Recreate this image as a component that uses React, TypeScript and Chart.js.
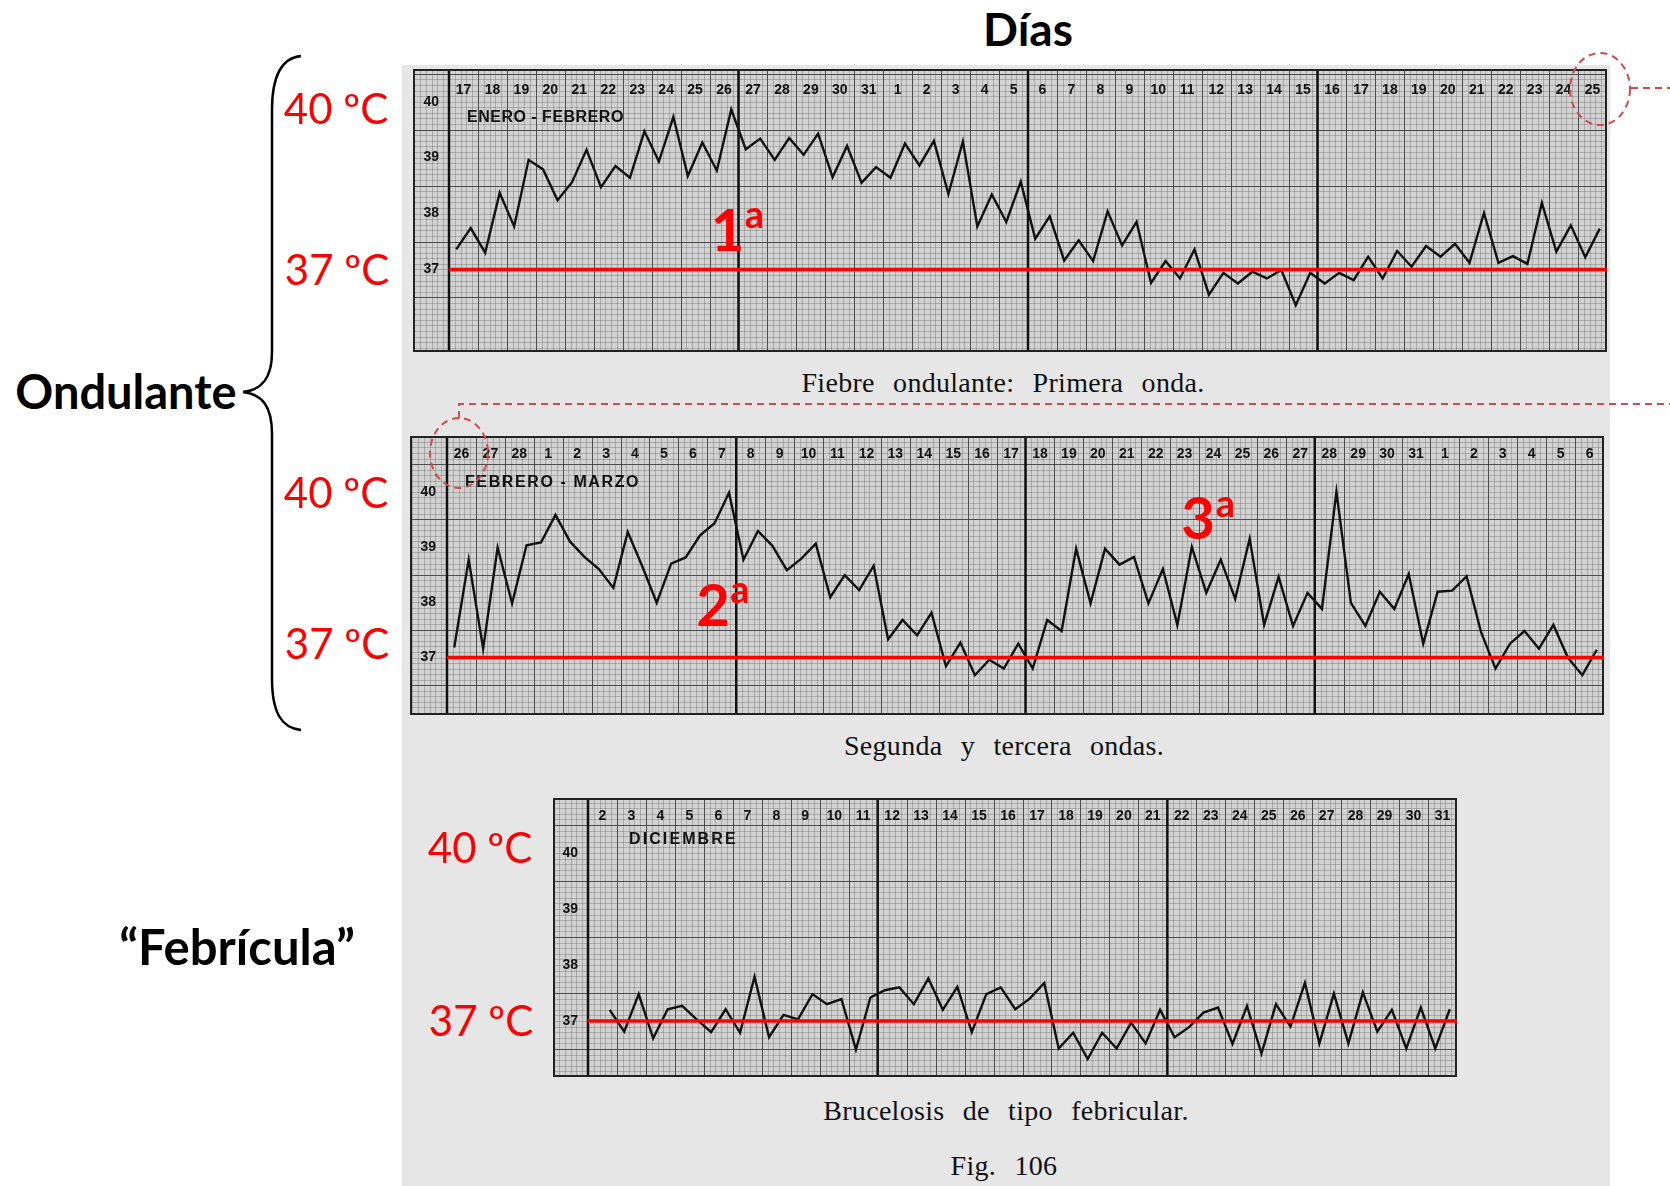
import React, { useEffect, useRef } from 'react';
import { Chart, registerables } from 'chart.js';
Chart.register(...registerables);

// ---------- DATA ----------
const days1 = ['17','18','19','20','21','22','23','24','25','26','27','28','29','30','31',
  '1','2','3','4','5','6','7','8','9','10','11','12','13','14','15','16','17','18','19','20','21','22','23','24','25'];
const days2 = ['26','27','28','1','2','3','4','5','6','7','8','9','10','11','12','13','14','15','16','17',
  '18','19','20','21','22','23','24','25','26','27','28','29','30','31','1','2','3','4','5','6'];
const days3 = ['2','3','4','5','6','7','8','9','10','11','12','13','14','15','16','17','18','19','20','21',
  '22','23','24','25','26','27','28','29','30','31'];

// two readings per day (morning / evening)
const temps1 = [37.36, 37.74, 37.30, 38.37, 37.77, 38.96, 38.79, 38.24, 38.56, 39.14,
  38.47, 38.85, 38.64, 39.47, 38.93, 39.73, 38.67, 39.27, 38.77, 39.86,
  39.15, 39.34, 38.96, 39.35, 39.05, 39.43, 38.65, 39.21, 38.55, 38.83,
  38.64, 39.25, 38.86, 39.30, 38.35, 39.29, 37.77, 38.34, 37.85, 38.57,
  37.55, 37.95, 37.16, 37.52, 37.15, 38.04, 37.43, 37.85, 36.76, 37.15,
  36.84, 37.36, 36.55, 36.94, 36.75, 36.96, 36.84, 36.99, 36.36, 36.94,
  36.75, 36.94, 36.81, 37.23, 36.84, 37.33, 37.05, 37.42, 37.23, 37.46,
  37.12, 38.01, 37.12, 37.24, 37.10, 38.19, 37.32, 37.79, 37.22, 37.73];
const temps2 = [37.18, 38.77, 37.16, 38.99, 37.98, 39.03, 39.08, 39.58, 39.10, 38.82,
  38.60, 38.26, 39.27, 38.65, 37.99, 38.70, 38.81, 39.21, 39.43, 39.98,
  38.77, 39.29, 39.02, 38.58, 38.79, 39.06, 38.09, 38.49, 38.22, 38.66,
  37.33, 37.68, 37.40, 37.81, 36.84, 37.27, 36.68, 36.96, 36.80, 37.25,
  36.80, 37.68, 37.48, 38.97, 37.98, 38.97, 38.68, 38.82, 37.98, 38.60,
  37.59, 39.00, 38.17, 38.77, 38.06, 39.15, 37.59, 38.46, 37.57, 38.17,
  37.88, 40.00, 37.99, 37.57, 38.19, 37.88, 38.51, 37.25, 38.19, 38.21,
  38.47, 37.46, 36.80, 37.25, 37.48, 37.16, 37.59, 37.00, 36.68, 37.14];
const temps3: (number | null)[] = [null, 37.20, 36.81, 37.48, 36.69, 37.21, 37.27, 37.03, 36.80, 37.21,
  36.79, 37.79, 36.71, 37.11, 37.03, 37.48, 37.30, 37.39, 36.49, 37.42,
  37.55, 37.60, 37.30, 37.76, 37.20, 37.61, 36.80, 37.48, 37.60, 37.21,
  37.40, 37.68, 36.51, 36.79, 36.32, 36.79, 36.51, 36.97, 36.60, 37.20,
  36.71, 36.89, 37.15, 37.24, 36.59, 37.27, 36.42, 37.30, 36.90, 37.68,
  36.60, 37.49, 36.60, 37.51, 36.81, 37.20, 36.51, 37.24, 36.51, 37.21];

const yTickValues = [37, 38, 39, 40];
const normalTemp = 37;

// ---------- STYLE ----------
const serif = "'Liberation Serif', 'Times New Roman', serif";
const sans = "'Liberation Sans', Arial, sans-serif";
const anno = "Lato, 'Open Sans', sans-serif";

const paperPlugin = {
  id: 'paper',
  beforeDraw(chart: any) {
    const { ctx } = chart;
    const W = chart.width, H = chart.height;
    const ys = chart.scales.y, xs = chart.scales.xd;
    const nDays = xs.max;
    ctx.save();
    ctx.fillStyle = '#d2d2d2';
    ctx.fillRect(0, 0, W, H);
    // fine grid
    ctx.strokeStyle = 'rgba(60,60,60,0.26)';
    ctx.lineWidth = 1;
    ctx.beginPath();
    for (let k = -30; k < 1000; k++) {
      const x = xs.getPixelForValue(k / 5);
      if (x > W) break;
      if (x < 0) continue;
      const px = Math.round(x) + 0.5;
      ctx.moveTo(px, 0); ctx.lineTo(px, H);
    }
    const vTop = ys.getValueForPixel(0), vBot = ys.getValueForPixel(H);
    for (let v = Math.ceil(vBot * 10); v <= Math.floor(vTop * 10); v++) {
      const py = Math.round(ys.getPixelForValue(v / 10)) + 0.5;
      ctx.moveTo(0, py); ctx.lineTo(W, py);
    }
    ctx.stroke();
    // medium lines: each day, each x.5 degree
    ctx.strokeStyle = 'rgba(40,40,40,0.7)';
    ctx.beginPath();
    for (let d = 1; d < nDays; d++) {
      if (d % 10 === 0) continue;
      const px = Math.round(xs.getPixelForValue(d)) + 0.5;
      ctx.moveTo(px, 0); ctx.lineTo(px, H);
    }
    for (let v = Math.floor(vBot) + 0.5; v < vTop; v += 1) {
      if (v < vBot) continue;
      const py = Math.round(ys.getPixelForValue(v)) + 0.5;
      ctx.moveTo(0, py); ctx.lineTo(W, py);
    }
    ctx.stroke();
    // thick lines every 10 days
    ctx.strokeStyle = '#111';
    ctx.lineWidth = 2.5;
    ctx.beginPath();
    for (let d = 0; d < nDays; d += 10) {
      const px = xs.getPixelForValue(d);
      ctx.moveTo(px, 0); ctx.lineTo(px, H);
    }
    ctx.stroke();
    ctx.strokeStyle = '#222';
    ctx.lineWidth = 2;
    ctx.strokeRect(1, 1, W - 2, H - 2);
    ctx.restore();
  },
};

type PanelProps = {
  left: number; top: number; width: number; height: number;
  axisW: number; headerH: number; yMin: number; yMax: number; labelPad: number;
  labels: string[]; temps: (number | null)[];
};

function Panel(p: PanelProps) {
  const ref = useRef<HTMLCanvasElement>(null);
  useEffect(() => {
    const nDays = p.labels.length;
    const chart = new Chart(ref.current as HTMLCanvasElement, {
      type: 'line',
      data: {
        datasets: [
          {
            data: [{ x: 0, y: normalTemp }, { x: nDays, y: normalTemp }],
            borderColor: '#ff0000', borderWidth: 3.5, pointRadius: 0,
            xAxisID: 'xd', yAxisID: 'y',
          },
          {
            data: p.temps.map((t, i) => ({ x: (i + 0.5) / 2, y: t })),
            borderColor: '#111', borderWidth: 2.4, pointRadius: 0, tension: 0,
            borderJoinStyle: 'miter',
            xAxisID: 'xd', yAxisID: 'y',
          },
        ],
      } as any,
      options: {
        animation: false,
        responsive: false,
        devicePixelRatio: 1,
        events: [],
        layout: { padding: 0 },
        plugins: { legend: { display: false }, tooltip: { enabled: false } },
        scales: {
          x: {
            type: 'category', labels: p.labels, position: 'top', offset: true,
            grid: { display: false, drawTicks: false }, border: { display: false },
            ticks: {
              autoSkip: false, maxRotation: 0, minRotation: 0, padding: p.labelPad,
              color: '#111', font: { family: sans, weight: 'bold', size: 14 },
            },
            afterFit(s: any) { s.height = p.headerH; s.paddingLeft = 0; s.paddingRight = 0; },
          },
          xd: { type: 'linear', min: 0, max: nDays, display: false },
          y: {
            type: 'linear', position: 'left', min: p.yMin, max: p.yMax,
            grid: { display: false, drawTicks: false }, border: { display: false },
            ticks: {
              crossAlign: 'near', padding: Math.round((p.axisW - 16) / 2), color: '#111',
              font: { family: sans, weight: 'bold', size: 14 },
            },
            afterBuildTicks(s: any) { s.ticks = yTickValues.map((v) => ({ value: v })); },
            afterFit(s: any) { s.width = p.axisW; s.paddingTop = 0; s.paddingBottom = 0; },
          },
        },
      } as any,
      plugins: [paperPlugin],
    });
    return () => chart.destroy();
  }, []);
  return (
    <canvas ref={ref} width={p.width} height={p.height}
      style={{ position: 'absolute', left: p.left, top: p.top, width: p.width, height: p.height }} />
  );
}

function T({ x, y, children, style, align }: any) {
  return (
    <div style={{
      position: 'absolute', left: x, top: y,
      transform: align === 'left' ? 'translate(0,-50%)' : 'translate(-50%,-50%)',
      whiteSpace: 'nowrap', lineHeight: 1, ...style,
    }}>{children}</div>
  );
}

const red = '#ff0000';
const redLbl = { color: red, fontFamily: anno, fontSize: 42 };
const bigLbl = { color: '#000', fontFamily: anno, fontWeight: 700 };
const capLbl = { color: '#111', fontFamily: serif, fontSize: 28, letterSpacing: 0.3, wordSpacing: 11 };
const monthLbl = { color: '#111', fontFamily: sans, fontWeight: 700, fontSize: 16 };
const ordNum = { color: red, fontFamily: anno, fontWeight: 700, fontSize: 58 };
const ordSup = { color: red, fontFamily: anno, fontWeight: 700, fontSize: 38 };

export default function App() {
  return (
    <div style={{ position: 'absolute', left: 0, top: 0, width: 1670, height: 1186, background: '#fff', overflow: 'hidden' }}>
      <div style={{ position: 'absolute', left: 402, top: 65, width: 1208, height: 1121, background: '#e6e6e6' }} />

      <Panel left={413} top={69} width={1194} height={283} axisW={36} headerH={29}
        yMin={35.525} yMax={40.066} labelPad={-1} labels={days1} temps={temps1} />
      <Panel left={410} top={436} width={1194} height={279} axisW={37} headerH={27}
        yMin={35.96} yMax={40.519} labelPad={0} labels={days2} temps={temps2} />
      <Panel left={553} top={798} width={904} height={279} axisW={35} headerH={27}
        yMin={36.0} yMax={40.5} labelPad={0} labels={days3} temps={temps3} />

      <T x={467} y={116.5} align="left" style={{ ...monthLbl, letterSpacing: 0.5 }}>ENERO - FEBRERO</T>
      <T x={465} y={481.5} align="left" style={{ ...monthLbl, letterSpacing: 1.6 }}>FEBRERO - MARZO</T>
      <T x={629} y={839} align="left" style={{ ...monthLbl, letterSpacing: 2.1 }}>DICIEMBRE</T>

      <T x={1028} y={29} style={{ ...bigLbl, fontSize: 46 }}>Días</T>
      <T x={126} y={391} style={{ ...bigLbl, fontSize: 47 }}>Ondulante</T>
      <T x={237} y={946} style={{ ...bigLbl, fontSize: 49 }}>“Febrícula”</T>

      <T x={336} y={108} style={redLbl}>40 ºC</T>
      <T x={337} y={269} style={redLbl}>37 ºC</T>
      <T x={336} y={492} style={redLbl}>40 ºC</T>
      <T x={337} y={643} style={redLbl}>37 ºC</T>
      <T x={480} y={847} style={redLbl}>40 ºC</T>
      <T x={481} y={1020} style={redLbl}>37 ºC</T>

      <T x={727.5} y={229} style={ordNum}>1</T>
      <T x={754.5} y={213} style={ordSup}>a</T>
      <T x={713} y={603.5} style={ordNum}>2</T>
      <T x={740} y={587.5} style={ordSup}>a</T>
      <T x={1198} y={517} style={ordNum}>3</T>
      <T x={1225.5} y={501.5} style={ordSup}>a</T>

      <T x={1003} y={383} style={capLbl}>Fiebre ondulante: Primera onda.</T>
      <T x={1004} y={746} style={capLbl}>Segunda y tercera ondas.</T>
      <T x={1006} y={1111} style={capLbl}>Brucelosis de tipo febricular.</T>
      <T x={1004} y={1166} style={capLbl}>Fig. 106</T>

      <svg width={1670} height={1186} style={{ position: 'absolute', left: 0, top: 0, pointerEvents: 'none' }}>
        <path d="M 301 56 C 281 58, 272 76, 272 110 L 272 352 C 272 378, 262 390, 243 392 C 262 394, 272 406, 272 434 L 272 678 C 272 712, 281 728, 301 730"
          fill="none" stroke="#000" strokeWidth={2.5} />
        <g fill="none" stroke="#d24a4a" strokeWidth={2} strokeDasharray="7 5">
          <ellipse cx={1600} cy={89} rx={30} ry={36} />
          <path d="M 1631 88 L 1670 88" />
          <ellipse cx={459} cy={453} rx={29} ry={35} />
          <path d="M 459 418 L 459 404 L 1670 404" />
        </g>
      </svg>
    </div>
  );
}
